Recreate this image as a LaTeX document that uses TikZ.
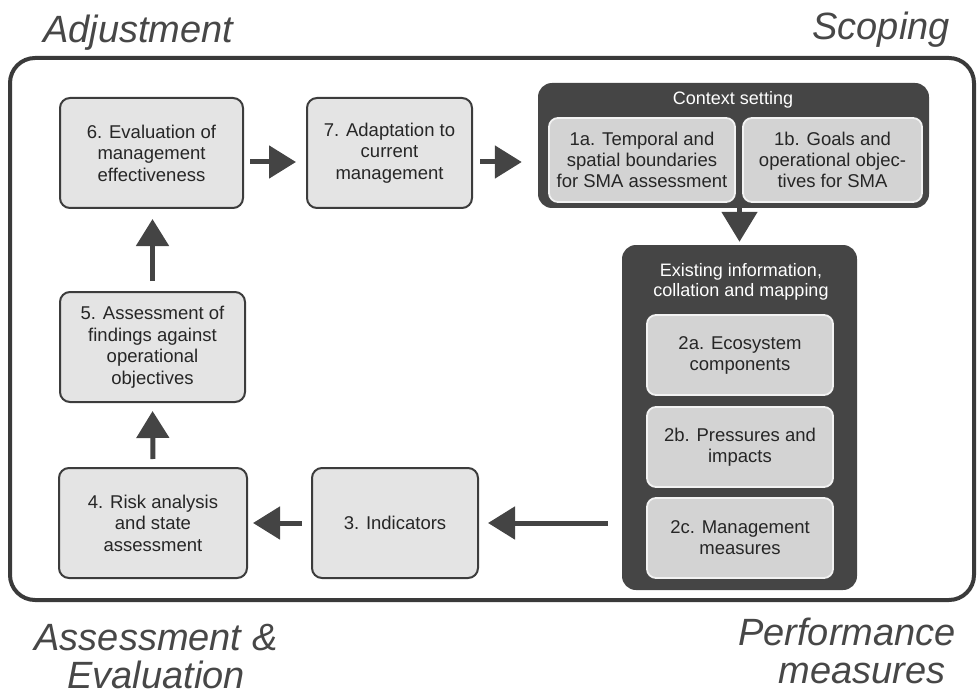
\documentclass[tikz,border=0pt]{standalone}
\usepackage{fontspec}
\setmainfont{Liberation Sans}
\usetikzlibrary{arrows.meta}
\definecolor{frameC}{HTML}{3A3A3A}
\definecolor{boxLine}{HTML}{3C3C3C}
\definecolor{boxFill}{HTML}{E4E4E4}
\definecolor{innerFill}{HTML}{D3D3D3}
\definecolor{innerLine}{HTML}{F2F2F2}
\definecolor{darkFill}{HTML}{454545}
\definecolor{arrowC}{HTML}{444444}
\definecolor{labelC}{HTML}{474747}
\tikzset{
  outerbox/.style={draw=boxLine, line width=2pt, fill=boxFill, rounded corners=10pt,
    align=center, font=\fontsize{18.5}{21.5}\selectfont, text=black!85, inner sep=0pt},
  innerbox/.style={draw=innerLine, line width=1.8pt, fill=innerFill, rounded corners=9pt,
    align=center, font=\fontsize{18.5}{21}\selectfont, text=black!85, inner sep=0pt},
  container/.style={fill=darkFill, rounded corners=14pt, inner sep=0pt},
  ctitle/.style={text=white, align=center, font=\fontsize{18}{20.5}\selectfont, inner sep=0pt},
  bigarrow/.style={draw=arrowC, line width=5pt, -{Triangle[length=27pt,width=32pt]}},
  downarrow/.style={draw=arrowC, line width=5pt, -{Triangle[length=30pt,width=35pt]}},
  cornerlabel/.style={font=\fontsize{38}{41}\selectfont\itshape, text=labelC, inner sep=0pt},
  frame/.style={draw=frameC, line width=4pt, rounded corners=25pt}
}
\begin{document}
\begin{tikzpicture}[x=1pt,y=-1pt]
\useasboundingbox (0,0) rectangle (977,695);

% outer frame
\draw[frame] (10,58) rectangle (974,600);

% corner labels
\node[cornerlabel, anchor=base west] (adj) at (43,43) {Adjustment};
\node[cornerlabel, anchor=base east] (scop) at (950,40) {Scoping};
\node[cornerlabel, anchor=base] (assess) at (156,650) {Assessment \&};
\node[cornerlabel, anchor=base] (evalu) at (156,688) {Evaluation};
\node[cornerlabel, anchor=base] (perf) at (847,645) {Performance};
\node[cornerlabel, anchor=base] (meas) at (862,683) {measures};

% top row
\node[outerbox, minimum width=183pt, minimum height=110pt] (b6) at (151.5,153)
  {6. Evaluation of\\management\\effectiveness};
\node[outerbox, minimum width=165pt, minimum height=110pt] (b7) at (389.5,153)
  {7. Adaptation to\\current\\management};

% context setting container
\node[container, minimum width=391pt, minimum height=125pt] (ctx) at (733.5,145.5) {};
\node[ctitle] (ctxt) at (733,100) {Context setting};
\node[innerbox, minimum width=186pt, minimum height=84pt] (b1a) at (642,160)
  {1a. Temporal and\\spatial boundaries\\for SMA assessment};
\node[innerbox, minimum width=179pt, minimum height=84pt] (b1b) at (832.5,160)
  {1b. Goals and\\operational objec-\\tives for SMA};

% existing information container
\node[container, minimum width=235pt, minimum height=345pt] (ex) at (739.5,417.5) {};
\node[ctitle] (ext) at (741,282) {Existing information,\\collation and mapping};
\node[innerbox, minimum width=186pt, minimum height=80pt] (b2a) at (740,355)
  {2a. Ecosystem\\components};
\node[innerbox, minimum width=186pt, minimum height=80pt] (b2b) at (740,447)
  {2b. Pressures and\\impacts};
\node[innerbox, minimum width=186pt, minimum height=80pt] (b2c) at (740,538)
  {2c. Management\\measures};

% left column and bottom row
\node[outerbox, minimum width=185pt, minimum height=110pt] (b5) at (152.5,347)
  {5. Assessment of\\findings against\\operational\\objectives};
\node[outerbox, minimum width=188pt, minimum height=110pt] (b4) at (153,523)
  {4. Risk analysis\\and state\\assessment};
\node[outerbox, minimum width=166pt, minimum height=110pt] (b3) at (395,523)
  {3. Indicators};

% arrows
\coordinate (a67) at ([yshift=-9pt]b6.east);
\coordinate (a7c) at ([yshift=-9pt]b7.east);
\draw[bigarrow, shorten <=6pt, shorten >=10pt] (a67) -- (a67 -| b7.west);
\draw[bigarrow, shorten <=7pt, shorten >=16pt] (a7c) -- (a7c -| ctx.west);
\draw[downarrow, shorten >=3pt] (ctx.south -| ex.north) -- (ex.north);
\draw[bigarrow, shorten <=14pt, shorten >=9pt] (ex.west |- b3.east) -- (b3.east);
\draw[bigarrow, shorten <=9pt, shorten >=5pt] (b3.west) -- (b4.east);
\draw[bigarrow, shorten <=8pt, shorten >=8pt] (b4.north) -- (b5.south);
\draw[bigarrow, shorten <=10pt, shorten >=10pt] (b5.north) -- (b5.north |- b6.south);
\end{tikzpicture}
\end{document}
